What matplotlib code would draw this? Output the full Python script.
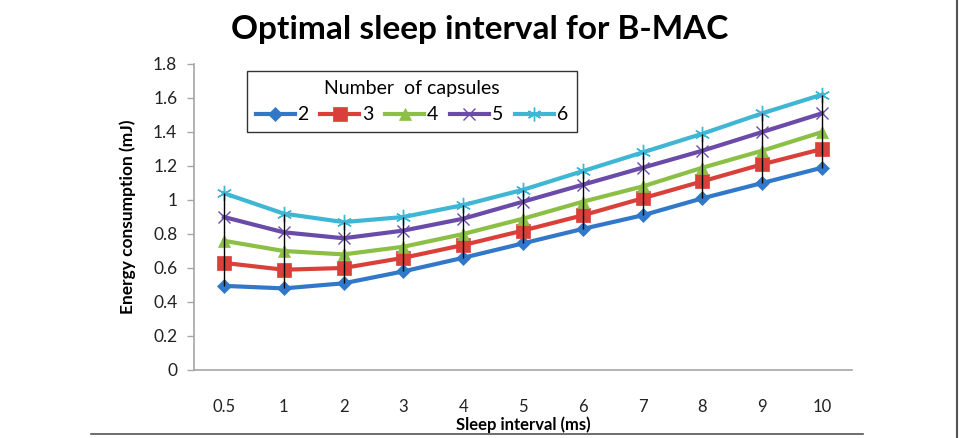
import matplotlib
matplotlib.use("Agg")
import matplotlib.pyplot as plt
from matplotlib.lines import Line2D
import numpy as np

plt.rcParams['font.family'] = ['Lato', 'DejaVu Sans']

categories = ["0.5", "1", "2", "3", "4", "5", "6", "7", "8", "9", "10"]
series_names = ["2", "3", "4", "5", "6"]
cap2 = [0.495, 0.48, 0.51, 0.58, 0.66, 0.745, 0.83, 0.91, 1.01, 1.10, 1.19]
cap3 = [0.63, 0.59, 0.60, 0.66, 0.735, 0.82, 0.91, 1.01, 1.11, 1.21, 1.30]
cap4 = [0.76, 0.70, 0.68, 0.725, 0.80, 0.89, 0.99, 1.08, 1.19, 1.29, 1.40]
cap5 = [0.90, 0.81, 0.775, 0.82, 0.89, 0.99, 1.09, 1.19, 1.29, 1.40, 1.51]
cap6 = [1.04, 0.92, 0.87, 0.90, 0.97, 1.06, 1.17, 1.28, 1.39, 1.51, 1.62]
yticks = [0, 0.2, 0.4, 0.6, 0.8, 1.0, 1.2, 1.4, 1.6, 1.8]
ytick_labels = ["0", "0.2", "0.4", "0.6", "0.8", "1", "1.2", "1.4", "1.6", "1.8"]

colors = ['#3278C8', '#D9403A', '#8CBF45', '#6A4CA8', '#3FB6D3']
markers = ['D', 's', '^', 'x', (6, 2, 0)]
msizes = [7.5, 10.5, 9, 9, 11]

fig = plt.figure(figsize=(9.61, 4.38), dpi=100)
ax = fig.add_axes([194/961, 1-370/438, 658/961, 306/438])

x = np.arange(len(categories))
data = [cap2, cap3, cap4, cap5, cap6]
for vals, name, c, m, ms in zip(data, series_names, colors, markers, msizes):
    thin = (m == 'x') or isinstance(m, tuple)
    ax.plot(x, vals, color=c, lw=3.0, marker=m, markersize=ms,
            markeredgewidth=1.0 if thin else 0.5,
            markeredgecolor=c, label=name, zorder=3)

arr = np.array(data)
ax.vlines(x, arr.min(axis=0), arr.max(axis=0), colors='black', lw=1.0, zorder=4)

ax.set_xlim(-0.5, len(categories) - 0.5)
ax.set_ylim(0, 1.8)
ax.set_yticks(yticks)
ax.set_yticklabels(ytick_labels)
ax.set_xticks(x)
ax.set_xticklabels(categories)
ax.tick_params(axis='x', length=0, pad=21, labelsize=12, colors='#222222')
ax.tick_params(axis='y', length=5, width=1, color='#A6A6A6', pad=7, labelsize=12.5,
               labelcolor='#222222')
for s in ['top', 'right']:
    ax.spines[s].set_visible(False)
for s in ['left', 'bottom']:
    ax.spines[s].set_color('#A6A6A6')
    ax.spines[s].set_linewidth(1.2)

ax.set_xlabel("Sleep interval (ms)", fontweight='bold', fontsize=12, labelpad=1)
ax.set_ylabel("Energy consumption (mJ)", fontweight='bold', fontsize=12.5, labelpad=12)

fig.text(480/961, 1-30/438, "Optimal sleep interval for B-MAC", ha='center', va='center',
         fontsize=24, fontweight='bold')

leg = ax.legend(ncol=5, title="Number  of capsules", loc='upper left',
                bbox_to_anchor=((247-194)/658, (370-71)/306), borderaxespad=0,
                fontsize=14, title_fontsize=14,
                frameon=True, fancybox=False, edgecolor='black', handlelength=2.0,
                columnspacing=0.6, handletextpad=0.15, borderpad=0.45, markerscale=0.9)
leg.get_frame().set_linewidth(1.0)

fig.add_artist(Line2D([91/961, 863/961], [1-434/438, 1-434/438], color='#555555', lw=1.2))
fig.add_artist(Line2D([957/961, 957/961], [0, 1], color='#555555', lw=1.5))

fig.savefig("out.png", dpi=100)
